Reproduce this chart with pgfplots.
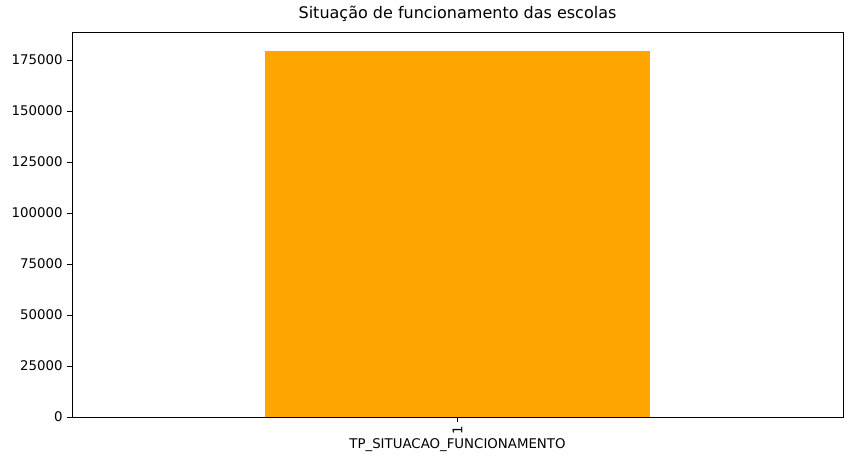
\documentclass[border=0pt]{standalone}
\usepackage{pgfplots}
\pgfplotsset{compat=1.18}
\usepackage{fontspec}
\setmainfont{DejaVu Sans}
\definecolor{bar}{HTML}{FFA500}
\begin{document}
\begin{tikzpicture}
\begin{axis}[
  scale only axis, width=578.25pt, height=288.75pt,
  xmin=-0.8, xmax=0.8, ymin=0, ymax=188725,
  xtick={0}, xticklabels={1}, xticklabel style={rotate=90, anchor=east},
  ytick={0,25000,50000,75000,100000,125000,150000,175000},
  scaled y ticks=false,
  yticklabel style={/pgf/number format/.cd, fixed, 1000 sep={}},
  /pgf/number format/assume math mode=true,
  tick style={black}, tick align=outside, major tick length=3.5pt,
  xtick pos=bottom, ytick pos=left,
  ticklabel style={font=\fontsize{10}{12}\selectfont},
  title={Situação de funcionamento das escolas},
  title style={font=\fontsize{12}{14}\selectfont, yshift=-2pt},
  xlabel={TP\_SITUACAO\_FUNCIONAMENTO},
  xlabel style={font=\fontsize{10}{12}\selectfont, yshift=4pt},
]
\addplot[ybar, bar width=0.8, fill=bar, draw=none, bar shift=0pt] coordinates {(0,179500)};
\end{axis}
\path (current axis.south west) ++(-54pt,-36pt);
\path (current axis.north east) ++(10.5pt,24pt);
\end{tikzpicture}
\end{document}
